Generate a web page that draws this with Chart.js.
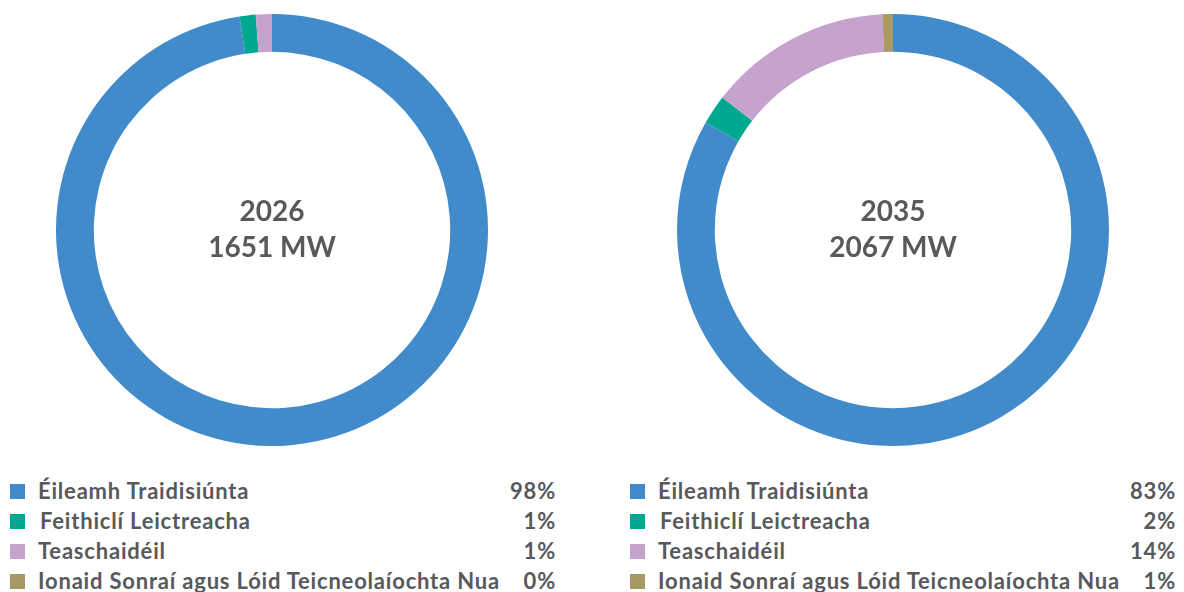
<!DOCTYPE html>
<html>
<head>
<meta charset="utf-8">
<script src="https://cdn.jsdelivr.net/npm/chart.js@4"></script>
<style>
  body { margin: 0; background: #ffffff; width: 1184px; height: 592px; overflow: hidden; position: relative; font-family: Lato, "Noto Sans", sans-serif; }
  .chartBox { position: absolute; top: 14px; width: 432px; height: 432px; }
  .legend { position: absolute; top: 476px; color: #58595b; font-size: 22px; font-weight: bold; letter-spacing: 0.8px; }
  .legend .row { position: relative; height: 30px; line-height: 30px; }
  .legend .sw { position: absolute; left: 0; top: 8px; width: 15px; height: 15px; }
  .legend .lbl { position: absolute; left: 28px; white-space: nowrap; }
  .legend .pct { position: absolute; right: 0; }
</style>
</head>
<body>
<div class="chartBox" style="left:56px"><canvas id="chart2026"></canvas></div>
<div class="chartBox" style="left:677px"><canvas id="chart2035"></canvas></div>
<div class="legend" id="legend2026" style="left:10px; width:546px"></div>
<div class="legend" id="legend2035" style="left:630px; width:546px"></div>
<script>
// categories and colours
const categories = [
  "Éileamh Traidisiúnta",
  "Feithiclí Leictreacha",
  "Teaschaidéil",
  "Ionaid Sonraí agus Lóid Teicneolaíochta Nua"
];
const colors = ["#428bca", "#00a88f", "#c5a3cc", "#a89a64"];

// share of demand per year (slice sizes, %)
const values2026 = [97.6, 1.2, 1.2, 0.0];
const values2035 = [83.3, 2.2, 13.7, 0.8];

// labels shown in the legend
const pct2026 = ["98%", "1%", "1%", "0%"];
const pct2035 = ["83%", "2%", "14%", "1%"];

const titles2026 = ["2026", "1651 MW"];
const titles2035 = ["2035", "2067 MW"];

// draws the two lines of text in the hole of the doughnut
const centerText = {
  id: 'centerText',
  afterDraw(chart, args, opts) {
    const ctx = chart.ctx;
    const meta = chart.getDatasetMeta(0).data[0];
    ctx.save();
    ctx.fillStyle = '#58595b';
    ctx.font = 'bold 28px Lato, "Noto Sans", sans-serif';
    ctx.textAlign = 'center';
    ctx.textBaseline = 'middle';
    ctx.fillText(opts.lines[0], meta.x, meta.y - 18);
    ctx.fillText(opts.lines[1], meta.x, meta.y + 18);
    ctx.restore();
  }
};

function addDoughnut(id, values, lines) {
  new Chart(document.getElementById(id), {
    type: 'doughnut',
    data: {
      labels: categories,
      datasets: [{
        data: values,
        backgroundColor: colors,
        borderWidth: 0
      }]
    },
    options: {
      responsive: true,
      maintainAspectRatio: false,
      animation: false,
      cutout: '82.5%',
      layout: { padding: 0 },
      plugins: {
        legend: { display: false },
        tooltip: { enabled: false },
        centerText: { lines: lines }
      }
    },
    plugins: [centerText]
  });
}

// legend rows with colour box, name and percentage
function addLegend(id, pcts) {
  const div = document.getElementById(id);
  for (let i = 0; i < categories.length; i++) {
    let row = document.createElement('div');
    row.className = 'row';
    row.innerHTML = '<span class="sw" style="background:' + colors[i] + '"></span>' +
      '<span class="lbl"' + (i == 1 ? ' style="left:30px"' : '') + '>' + categories[i] + '</span>' +
      '<span class="pct">' + pcts[i] + '</span>';
    div.appendChild(row);
  }
}

addDoughnut('chart2026', values2026, titles2026);
addDoughnut('chart2035', values2035, titles2035);
addLegend('legend2026', pct2026);
addLegend('legend2035', pct2035);
</script>
</body>
</html>
